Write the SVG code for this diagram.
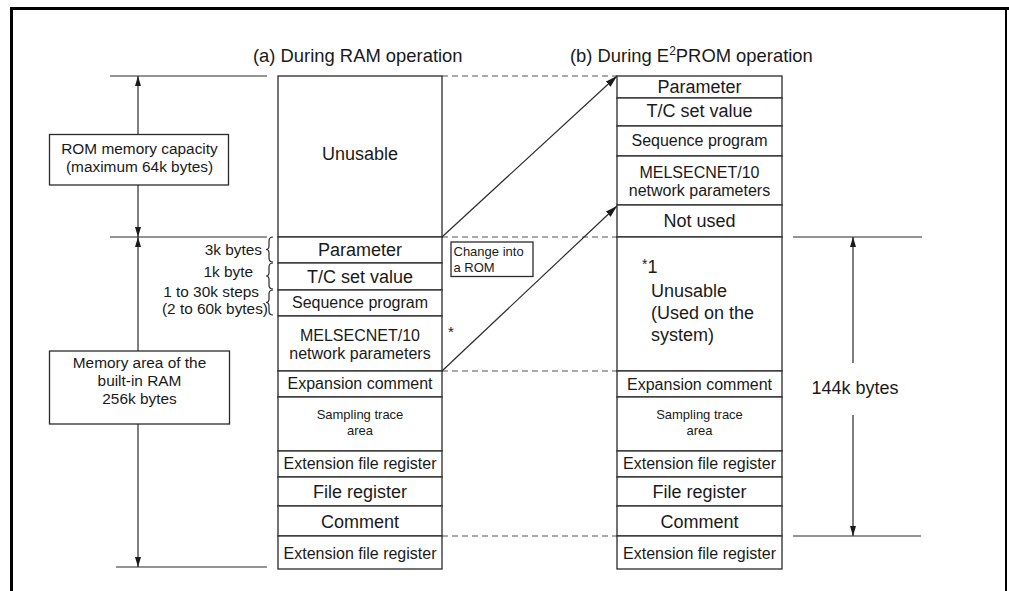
<svg xmlns="http://www.w3.org/2000/svg" width="1009" height="591" viewBox="0 0 1009 591">
<style>
text{font-family:"Liberation Sans",Arial,sans-serif;fill:#1a1a1a}
.big{font-size:18px;text-anchor:middle}
.med{font-size:16px;text-anchor:middle}
.sm{font-size:13px;text-anchor:middle}
.ann{font-size:15.4px}
.ttl{font-size:18.4px}
.cell{fill:#fff;stroke:#2a2a2a;stroke-width:1.3}
.box{fill:#fff;stroke:#2a2a2a;stroke-width:1.3}
.ln{fill:none;stroke:#2a2a2a;stroke-width:1.2}
.dash{fill:none;stroke:#555;stroke-width:1.2;stroke-dasharray:6 4}
.frame{fill:none;stroke:#000}
</style>
<defs>
<marker id="ah" markerWidth="10" markerHeight="6" refX="10" refY="3" orient="auto" markerUnits="userSpaceOnUse"><path d="M0,0 L10,3 L0,6 z" fill="#1a1a1a"/></marker>
<marker id="ah2" markerWidth="12" markerHeight="7" refX="12" refY="3.5" orient="auto" markerUnits="userSpaceOnUse"><path d="M0,0 L12,3.5 L0,7 z" fill="#1a1a1a"/></marker>
</defs>
<rect width="1009" height="591" fill="#fff"/>
<g id="frame">
<line class="frame" x1="10" y1="8.5" x2="1009" y2="8.5" stroke-width="3"/>
<line class="frame" x1="11.5" y1="7" x2="11.5" y2="591" stroke-width="3"/>
<line class="frame" x1="1006" y1="7" x2="1006" y2="591" stroke-width="2"/>
</g>
<g id="titles">
<text class="ttl" x="253" y="62">(a) During RAM operation</text>
<text class="ttl" x="570" y="62">(b) During E<tspan font-size="12" dy="-7">2</tspan><tspan dy="7">PROM operation</tspan></text>
</g>
<g id="connectors">
<line class="dash" x1="442" y1="76" x2="617" y2="76"/>
<line class="dash" x1="442" y1="237" x2="617" y2="237"/>
<line class="dash" x1="442" y1="371" x2="617" y2="371"/>
<line class="dash" x1="442" y1="536" x2="617" y2="536"/>
<line class="ln" x1="110" y1="76" x2="267" y2="76"/>
<line class="ln" x1="110" y1="237" x2="267" y2="237"/>
<line class="ln" x1="116" y1="567" x2="267" y2="567"/>
<line class="ln" x1="138" y1="134" x2="138" y2="76" marker-end="url(#ah)"/>
<line class="ln" x1="138" y1="185" x2="138" y2="237" marker-end="url(#ah)"/>
<line class="ln" x1="138" y1="351" x2="138" y2="237" marker-end="url(#ah)"/>
<line class="ln" x1="138" y1="424" x2="138" y2="567" marker-end="url(#ah)"/>
<line class="ln" x1="793" y1="237" x2="922" y2="237"/>
<line class="ln" x1="793" y1="536" x2="921" y2="536"/>
<line class="ln" x1="853" y1="363" x2="853" y2="237" marker-end="url(#ah)"/>
<line class="ln" x1="853" y1="415" x2="853" y2="536" marker-end="url(#ah)"/>
<line class="ln" x1="442" y1="237" x2="617" y2="76" marker-end="url(#ah2)"/>
<line class="ln" x1="442" y1="371" x2="617" y2="206" marker-end="url(#ah2)"/>
<path class="ln" d="M273,237 Q269,237 269,241 L269,246 Q269,249.5 266,249.5 Q269,249.5 269,253 L269,258 Q269,262 273,262"/>
<path class="ln" d="M273,263 Q269,263 269,267 L269,272.5 Q269,276 266,276 Q269,276 269,279.5 L269,285 Q269,289 273,289"/>
<path class="ln" d="M273,290 Q269,290 269,294 L269,299 Q269,302.5 266,302.5 Q269,302.5 269,306 L269,311 Q269,315 273,315"/>
</g>
<g id="rom-capacity">
<rect class="box" x="49.5" y="134.5" width="179" height="50.5"/>
<text class="ann" x="139.5" y="154" text-anchor="middle">ROM memory capacity</text>
<text class="ann" x="139.5" y="172" text-anchor="middle">(maximum 64k bytes)</text>
</g>
<g id="ram-area">
<rect class="box" x="49.5" y="351" width="180" height="73"/>
<text class="ann" x="139.5" y="368" text-anchor="middle">Memory area of the</text>
<text class="ann" x="139.5" y="386" text-anchor="middle">built-in RAM</text>
<text class="ann" x="139.5" y="404" text-anchor="middle">256k bytes</text>
</g>
<g id="size-notes">
<text class="ann" x="262" y="255" text-anchor="end">3k bytes</text>
<text class="ann" x="253" y="277" text-anchor="end">1k byte</text>
<text class="ann" x="259" y="297" text-anchor="end">1 to 30k steps</text>
<text class="ann" x="268" y="314" text-anchor="end">(2 to 60k bytes)</text>
</g>
<g id="change-rom">
<rect class="box" x="451" y="242" width="82" height="34.5" stroke-width="1.1"/>
<text x="453.5" y="256" font-size="13">Change into</text>
<text x="453.5" y="272" font-size="13">a ROM</text>
</g>
<g id="star-note">
<text x="448" y="337" font-size="15">*</text>
</g>
<g id="col-a">
<g id="a-unusable"><rect class="cell" x="278" y="76" width="164" height="161"/><text class="big" x="360" y="160">Unusable</text></g>
<g id="a-parameter"><rect class="cell" x="278" y="237" width="164" height="26"/><text class="big" x="360" y="256">Parameter</text></g>
<g id="a-tc"><rect class="cell" x="278" y="263" width="164" height="27"/><text class="big" x="360" y="283">T/C set value</text></g>
<g id="a-seq"><rect class="cell" x="278" y="290" width="164" height="26"/><text class="med" x="360" y="308">Sequence program</text></g>
<g id="a-mnet"><rect class="cell" x="278" y="316" width="164" height="55"/><text class="med" x="360" y="341">MELSECNET/10</text><text class="med" x="360" y="359">network parameters</text></g>
<g id="a-expcom"><rect class="cell" x="278" y="371" width="164" height="26"/><text class="med" x="360" y="389">Expansion comment</text></g>
<g id="a-samp"><rect class="cell" x="278" y="397" width="164" height="54"/><text class="sm" x="360" y="419">Sampling trace</text><text class="sm" x="360" y="435">area</text></g>
<g id="a-extfr1"><rect class="cell" x="278" y="451" width="164" height="26"/><text class="med" x="360" y="469">Extension file register</text></g>
<g id="a-fr"><rect class="cell" x="278" y="477" width="164" height="29"/><text class="big" x="360" y="498">File register</text></g>
<g id="a-com"><rect class="cell" x="278" y="506" width="164" height="30"/><text class="big" x="360" y="528">Comment</text></g>
<g id="a-extfr2"><rect class="cell" x="278" y="536" width="164" height="33"/><text class="med" x="360" y="559">Extension file register</text></g>
</g>
<g id="col-b">
<g id="b-parameter"><rect class="cell" x="617" y="76" width="165" height="22"/><text class="big" x="699.5" y="93">Parameter</text></g>
<g id="b-tc"><rect class="cell" x="617" y="98" width="165" height="28"/><text class="big" x="699.5" y="117">T/C set value</text></g>
<g id="b-seq"><rect class="cell" x="617" y="126" width="165" height="30"/><text class="med" x="699.5" y="146">Sequence program</text></g>
<g id="b-mnet"><rect class="cell" x="617" y="156" width="165" height="49"/><text class="med" x="699.5" y="178">MELSECNET/10</text><text class="med" x="699.5" y="196">network parameters</text></g>
<g id="b-notused"><rect class="cell" x="617" y="205" width="165" height="32"/><text class="big" x="699.5" y="227">Not used</text></g>
<g id="b-unusable"><rect class="cell" x="617" y="237" width="165" height="134"/>
<text x="642" y="273" font-size="18"><tspan font-size="14" dy="-4">*</tspan><tspan dy="4">1</tspan></text>
<text x="651" y="297" font-size="18">Unusable</text>
<text x="651" y="319" font-size="18">(Used on the</text>
<text x="651" y="341" font-size="18">system)</text></g>
<g id="b-expcom"><rect class="cell" x="617" y="371" width="165" height="26"/><text class="med" x="699.5" y="390">Expansion comment</text></g>
<g id="b-samp"><rect class="cell" x="617" y="397" width="165" height="54"/><text class="sm" x="699.5" y="419">Sampling trace</text><text class="sm" x="699.5" y="435">area</text></g>
<g id="b-extfr1"><rect class="cell" x="617" y="451" width="165" height="26"/><text class="med" x="699.5" y="469">Extension file register</text></g>
<g id="b-fr"><rect class="cell" x="617" y="477" width="165" height="29"/><text class="big" x="699.5" y="498">File register</text></g>
<g id="b-com"><rect class="cell" x="617" y="506" width="165" height="30"/><text class="big" x="699.5" y="528">Comment</text></g>
<g id="b-extfr2"><rect class="cell" x="617" y="536" width="165" height="33"/><text class="med" x="699.5" y="559">Extension file register</text></g>
</g>
<g id="dim-144k">
<text class="big" x="855" y="394">144k bytes</text>
</g>
</svg>
